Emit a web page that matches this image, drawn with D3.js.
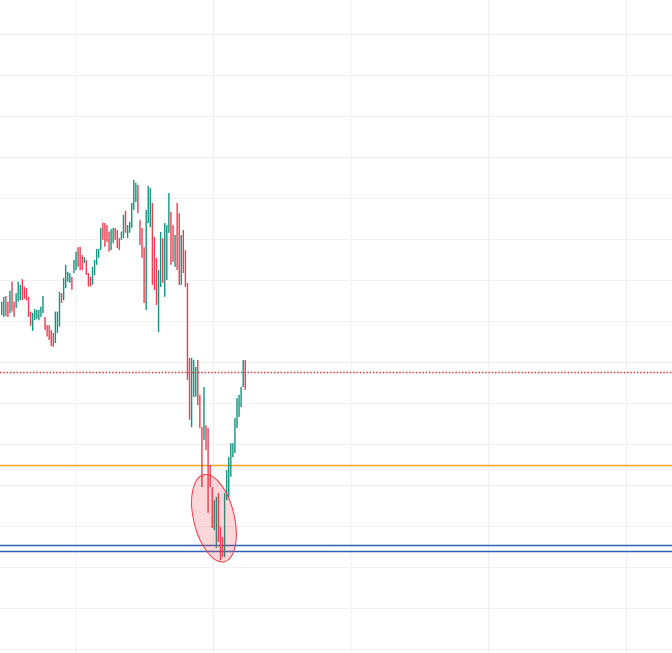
<!DOCTYPE html>
<html>
<head>
<meta charset="utf-8">
<script src="https://cdn.jsdelivr.net/npm/d3@7/dist/d3.min.js"></script>
<style>
  html, body { margin: 0; padding: 0; background: #ffffff; overflow: hidden; }
  svg { display: block; }
</style>
</head>
<body>
<svg id="chart" width="672" height="653"></svg>
<script>
// ---- data ----
const highs = [
  1084.7,1085.9,1086.1,1084.7,1087.4,1089.6,1084.7,1086.8,1089.6,1088.8,
  1090.2,1088.4,1088.0,1085.9,1082.3,1082.0,1082.9,1082.7,1082.7,1083.5,
  1086.1,1081.0,1079.0,1079.0,1077.8,1077.1,1082.3,1082.3,1087.1,1086.8,
  1090.5,1093.7,1092.0,1091.7,1090.8,1094.9,1096.9,1098.0,1098.1,1096.1,
  1095.6,1094.9,1091.7,1090.8,1093.2,1094.9,1097.6,1097.6,1102.7,1104.0,
  1103.9,1103.4,1101.8,1102.4,1102.7,1102.7,1102.2,1100.2,1101.8,1105.9,
  1106.9,1103.4,1104.2,1108.8,1114.4,1113.7,1113.2,1104.6,1102.7,1098.0,
  1107.1,1112.9,1112.4,1108.8,1100.5,1095.4,1092.4,1101.7,1100.2,1103.9,
  1103.4,1111.2,1106.6,1103.4,1101.0,1108.8,1106.3,1101.0,1102.2,1097.3,
  1089.3,1071.0,1071.0,1070.5,1068.8,1070.5,1062.0,1054.1,1063.9,1054.6,
  1053.9,1044.9,1039.5,1036.3,1037.1,1038.0,1029.8,1027.3,1038.0,1043.7,
  1046.8,1050.2,1050.2,1056.3,1061.2,1062.0,1063.9,1070.5,1070.5
];
const lows = [
  1081.5,1081.0,1081.2,1081.0,1081.9,1082.3,1081.0,1083.2,1084.7,1085.1,
  1085.1,1085.4,1085.0,1081.0,1078.8,1077.6,1080.2,1080.5,1080.2,1081.0,
  1081.9,1077.8,1076.2,1075.4,1073.9,1073.7,1074.6,1077.1,1078.6,1084.4,
  1085.1,1088.0,1089.6,1089.3,1087.6,1091.7,1092.4,1093.2,1092.4,1092.4,
  1094.1,1091.2,1088.4,1088.4,1088.8,1091.2,1093.7,1095.4,1097.3,1099.8,
  1098.1,1099.3,1096.9,1097.3,1099.0,1099.8,1097.8,1097.3,1099.8,1100.2,
  1101.5,1100.2,1101.5,1102.7,1107.1,1109.0,1106.3,1098.5,1095.4,1084.4,
  1082.7,1103.9,1102.9,1088.8,1087.6,1083.9,1077.3,1088.3,1089.3,1085.9,
  1090.0,1101.5,1093.7,1094.4,1093.2,1092.4,1088.8,1088.8,1091.7,1088.3,
  1065.6,1055.9,1054.1,1061.5,1061.5,1059.5,1053.9,1039.5,1051.0,1048.5,
  1033.2,1039.5,1029.5,1029.0,1024.6,1026.1,1021.7,1022.4,1022.4,1036.3,
  1037.1,1042.0,1046.8,1047.8,1053.9,1056.6,1059.0,1063.9,1063.2
];
// T = rising (teal), R = falling (red)
const directions = (
  "TTRRTRRTTT" + "RRRRRTTTTT" + "TRRRRRTTTR" + "TTTTRTTRRR" +
  "TRRRTTTTTR" + "RRRTTRRRTT" + "RTTTTTRRRR" + "TTTRRRTTRT" +
  "TTRRTRRTRR" + "RRTTTRRRTR" + "RRRTTRRRTT" + "TTTTTTTTR"
).split("");

const priceGrid = [1000,1010,1020,1030,1040,1050,1060,1070,1080,1090,1100,1110,1120,1130,1140,1150,1160];
const timeGrid = [35.8, 102.4, 169.0, 235.7, 302.4];

const levels = [
  { name: "resistance", price: 1067.6, color: "#e8343f", dash: "1.5,1.8", width: 1.3 },
  { name: "mid",        price: 1044.9, color: "#f5a623", dash: null, width: 1.3 },
  { name: "support1",   price: 1025.4, color: "#2f62b5", dash: null, width: 1.3 },
  { name: "support2",   price: 1023.9, color: "#2f62b5", dash: null, width: 1.3 }
];

// ellipse: two major-axis vertices (bar index, price) and minor/major ratio
const ellipseP1 = [97.8, 1042.5];
const ellipseP2 = [107.9, 1021.3];
const ellipseRatio = 0.456;

// ---- drawing ----
const W = 672, H = 653;
const svg = d3.select("#chart");
svg.append("rect").attr("width", W).attr("height", H).attr("fill", "#ffffff");

const x = d3.scaleLinear().domain([0, 325]).range([1.7, 672.5]);
const y = d3.scaleLinear().domain([1000, 1100]).range([649, 239]);

const gridColor = "#eef0f4";
const yAxis = d3.axisLeft(y).tickValues(priceGrid).tickSize(-W).tickFormat("");
const gy = svg.append("g").call(yAxis);
gy.select(".domain").remove();
gy.selectAll(".tick line").attr("stroke", gridColor).attr("stroke-width", 1);

const xAxis = d3.axisTop(x).tickValues(timeGrid).tickSize(-H).tickFormat("");
const gx = svg.append("g").call(xAxis);
gx.select(".domain").remove();
gx.selectAll(".tick line").attr("stroke", gridColor).attr("stroke-width", 1);

// level lines
svg.append("g").selectAll("line").data(levels).join("line")
  .attr("x1", 0).attr("x2", W)
  .attr("y1", d => Math.round(y(d.price)) + 0.5)
  .attr("y2", d => Math.round(y(d.price)) + 0.5)
  .style("stroke", d => d.color)
  .style("stroke-width", d => d.width)
  .style("stroke-dasharray", d => d.dash || "none");

// candles
const up = "#13947f", down = "#ea3f52";
const bars = highs.map((h, i) => ({ i, h, l: lows[i], d: directions[i] }));
svg.append("g").selectAll("rect").data(bars).join("rect")
  .attr("x", d => x(d.i) - 0.7)
  .attr("width", 1.4)
  .attr("y", d => y(d.h))
  .attr("height", d => Math.max(1, y(d.l) - y(d.h)))
  .attr("fill", d => d.d === "T" ? up : down);

// ellipse
const ax = x(ellipseP1[0]), ay = y(ellipseP1[1]);
const bx = x(ellipseP2[0]), by = y(ellipseP2[1]);
const cx = (ax + bx) / 2, cy = (ay + by) / 2;
const major = Math.hypot(bx - ax, by - ay) / 2;
const angle = Math.atan2(bx - ax, by - ay) * 180 / Math.PI;
svg.append("ellipse")
  .attr("cx", 0).attr("cy", 0)
  .attr("rx", major * ellipseRatio)
  .attr("ry", major)
  .attr("transform", `translate(${cx},${cy}) rotate(${-angle})`)
  .attr("fill", "rgba(242,54,69,0.2)")
  .attr("stroke", "#f23645")
  .attr("stroke-width", 1);
</script>
</body>
</html>
